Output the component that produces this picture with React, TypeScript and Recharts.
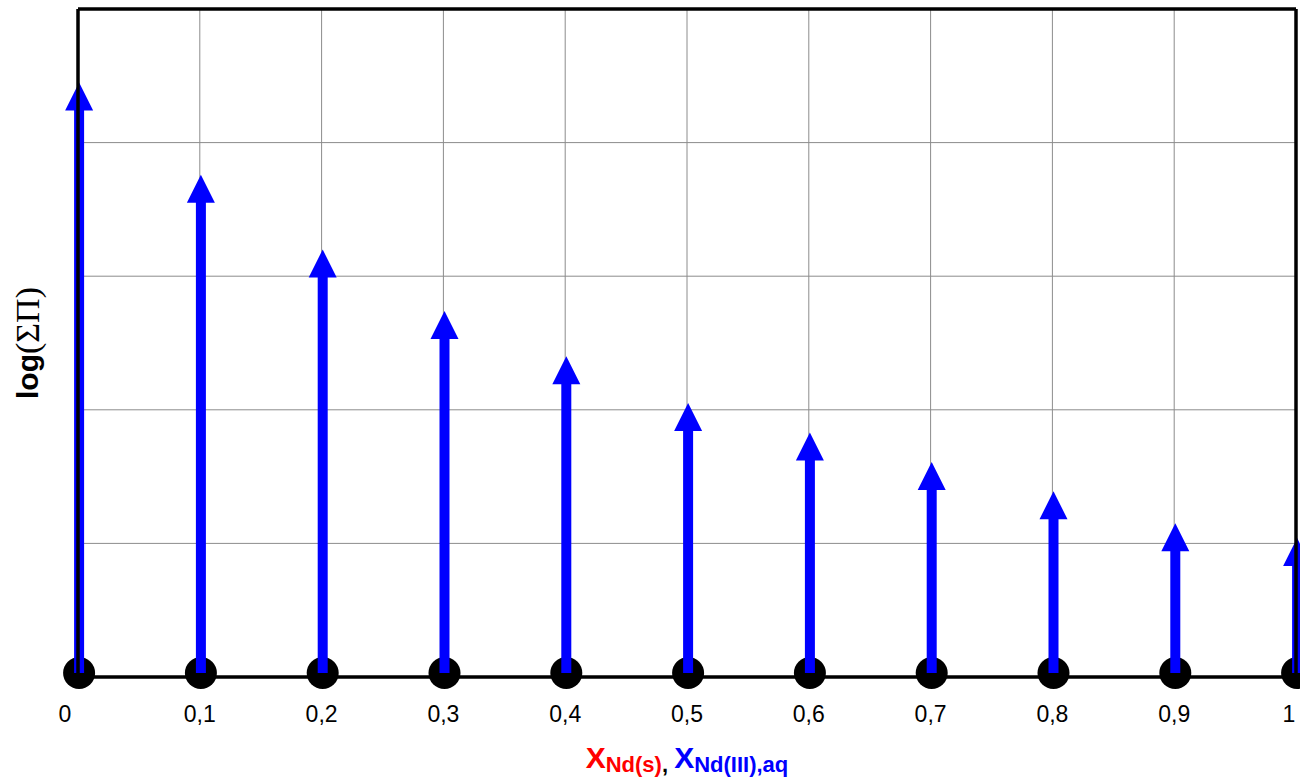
import { Bar, CartesianGrid, ComposedChart, ReferenceLine, XAxis, YAxis } from "recharts";

const molFractions = [0, 0.1, 0.2, 0.3, 0.4, 0.5, 0.6, 0.7, 0.8, 0.9, 1];
const logSumPi = [4.45, 3.76, 3.2, 2.74, 2.4, 2.05, 1.83, 1.61, 1.39, 1.15, 1.04];
const xTicks = [0, 0.1, 0.2, 0.3, 0.4, 0.5, 0.6, 0.7, 0.8, 0.9, 1];
const yTicks = [0, 1, 2, 3, 4, 5];

const data = molFractions.map((x, i) => ({ x, v: logSumPi[i] }));

const BLUE = "#0000ff";
const FONT = "'Liberation Sans', Arial, sans-serif";

function ArrowStem(props: any) {
  const { x, y, width, height } = props;
  if (height == null || width == null) return null;
  const cx = x + width / 2 + 1;
  const base = y + height;
  const head = 28;
  return (
    <g>
      <circle cx={cx} cy={base - 4} r={16} fill="#000" />
      <rect x={cx - 5} y={y + head - 1} width={10} height={height - head - 3} fill={BLUE} />
      <polygon points={`${cx},${y} ${cx - 14},${y + head} ${cx + 14},${y + head}`} fill={BLUE} />
    </g>
  );
}

function XTick(props: any) {
  const { x, y, payload, index, visibleTicksCount } = props;
  let dx = 0;
  if (index === 0) dx = -13;
  if (index === visibleTicksCount - 1) dx = -7;
  return (
    <text x={x + dx} y={y} dy={45} textAnchor="middle" fontSize={23} fontFamily={FONT} fill="#000">
      {String(payload.value).replace(".", ",")}
    </text>
  );
}

function XTitle(props: any) {
  const vb = props.viewBox;
  return (
    <text x={vb.x + vb.width / 2} y={vb.y + 91} textAnchor="middle" fontFamily={FONT} fontWeight="bold">
      <tspan fill="#ff0000" fontSize={30}>X</tspan>
      <tspan fill="#ff0000" fontSize={22} dy={4}>Nd(s)</tspan>
      <tspan fill="#000" fontSize={22}>, </tspan>
      <tspan fill={BLUE} fontSize={30} dy={-4}>X</tspan>
      <tspan fill={BLUE} fontSize={22} dy={4}>Nd(III),aq</tspan>
    </text>
  );
}

function YTitle(props: any) {
  const vb = props.viewBox || {};
  const cx = (vb.x ?? 0) + 27;
  const cy = (vb.y ?? 9) + (vb.height ?? 668) / 2;
  return (
    <text x={cx} y={cy} transform={`rotate(-90 ${cx} ${cy})`} textAnchor="middle" dominantBaseline="central" fill="#000">
      <tspan fontFamily={FONT} fontWeight="bold" fontSize={30}>log</tspan>
      <tspan fontFamily="'Liberation Serif', 'Times New Roman', serif" fontSize={34}>(ΣΠ)</tspan>
    </text>
  );
}

export default function App() {
  return (
    <div style={{ position: "absolute", left: 0, top: 0, background: "#fff" }}>
      <ComposedChart width={1300} height={781} data={data} margin={{ top: 9, right: 4, bottom: 0, left: 0 }}>
        <CartesianGrid stroke="#8c8c8c" strokeWidth={1} verticalValues={xTicks} horizontalValues={yTicks} />
        <XAxis
          dataKey="x"
          type="number"
          domain={[0, 1]}
          ticks={xTicks}
          interval={0}
          height={104}
          tickLine={false}
          tickSize={0}
          tickMargin={0}
          axisLine={{ stroke: "#000", strokeWidth: 3.5 }}
          tick={<XTick />}
          label={<XTitle />}
        />
        <YAxis
          type="number"
          domain={[0, 5]}
          ticks={yTicks}
          width={78}
          tick={() => <g />}
          tickLine={false}
          axisLine={{ stroke: "#000", strokeWidth: 3.5 }}
          label={<YTitle />}
        />
        <ReferenceLine y={5} stroke="#000" strokeWidth={3.5} />
        <ReferenceLine x={1} stroke="#000" strokeWidth={3.5} />
        <Bar dataKey="v" barSize={28} shape={<ArrowStem />} isAnimationActive={false} />
      </ComposedChart>
    </div>
  );
}
